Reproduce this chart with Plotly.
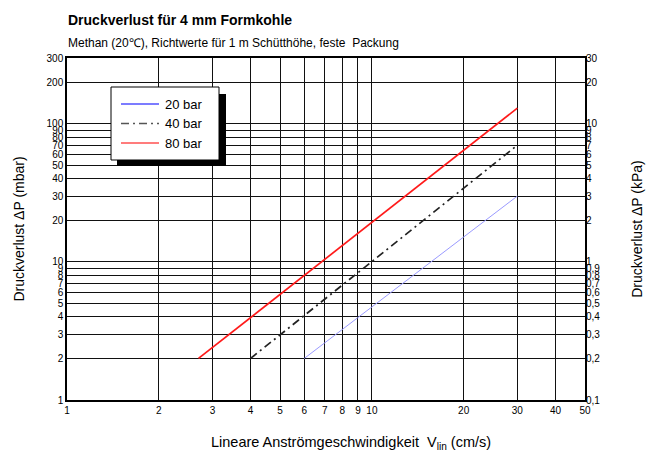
import numpy as np
import plotly.graph_objects as go

# Pressure-drop curves (velocity in cm/s, pressure drop in mbar)
series_names = ["20 bar", "40 bar", "80 bar"]
v_20 = [6.0, 30.0]
dp_20 = [2.0, 30.0]
v_40 = [4.0, 30.0]
dp_40 = [2.0, 70.0]
v_80 = [2.7, 30.0]
dp_80 = [2.0, 130.0]

x_ticks = [1, 2, 3, 4, 5, 6, 7, 8, 9, 10, 20, 30, 40, 50]
y_ticks = [1, 2, 3, 4, 5, 6, 7, 8, 9, 10, 20, 30, 40, 50, 60, 70, 80, 90, 100, 200, 300]
y2_ticks = [0.1, 0.2, 0.3, 0.4, 0.5, 0.6, 0.7, 0.8, 0.9, 1, 2, 3, 4, 5, 6, 7, 8, 9, 10, 20, 30]
y2_labels = ["0,1", "0,2", "0,3", "0,4", "0,5", "0,6", "0,7", "0,8", "0,9", "1",
             "2", "3", "4", "5", "6", "7", "8", "9", "10", "20", "30"]

styles = [
    dict(color="#9a9aff", width=1, dash="solid"),
    dict(color="#222222", width=1.7, dash="8px,4px,2px,4px"),
    dict(color="#ff1a1a", width=1.7, dash="solid"),
]
legend_colors = ["#5050ff", "#555555", "#ff5050"]

W, H = 650, 455
L, R, T, B = 67, 65, 58, 55
PW, PH = W - L - R, H - T - B

def px(x):
    return (x - L) / PW

def py(y):
    return (H - B - y) / PH

FONT = "Liberation Sans, Arial, sans-serif"

fig = go.Figure()
for name, xs, ys, st in zip(series_names, [v_20, v_40, v_80], [dp_20, dp_40, dp_80], styles):
    fig.add_trace(go.Scatter(x=xs, y=ys, mode="lines", name=name, line=st,
                             showlegend=False, hoverinfo="skip"))

# invisible trace carrying the kPa axis
fig.add_trace(go.Scatter(x=[1], y=[0.1], yaxis="y2", mode="markers",
                         marker=dict(opacity=0), showlegend=False, hoverinfo="skip"))

grid = dict(showgrid=True, gridcolor="#111111", gridwidth=1.1, ticks="",
            showline=True, linecolor="black", linewidth=1.5, mirror=True,
            zeroline=False, automargin=False)

fig.update_layout(
    width=W, height=H,
    margin=dict(l=L, r=R, t=T, b=B, pad=0),
    paper_bgcolor="white", plot_bgcolor="white",
    font=dict(family=FONT, color="black"),
    xaxis=dict(type="log", range=[0, np.log10(50)], tickvals=x_ticks,
               ticktext=[str(v) for v in x_ticks],
               tickfont=dict(size=10), **grid),
    yaxis=dict(type="log", range=[0, np.log10(300)], tickvals=y_ticks,
               ticktext=[str(v) for v in y_ticks],
               tickfont=dict(size=10), **grid,
               title=dict(text="Druckverlust ΔP (mbar)", font=dict(size=14), standoff=19)),
    yaxis2=dict(type="log", range=[-1, np.log10(30)], overlaying="y", side="right",
                tickvals=y2_ticks, ticktext=y2_labels, tickfont=dict(size=10),
                showgrid=False, ticks="", zeroline=False, showline=False, automargin=False,
                title=dict(text="Druckverlust ΔP (kPa)", font=dict(size=14), standoff=32)),
    showlegend=False,
)

# titles
fig.add_annotation(text="<b>Druckverlust für 4 mm Formkohle</b>", xref="paper", yref="paper",
                   x=px(66), y=py(20), xanchor="left", yanchor="middle", showarrow=False,
                   font=dict(size=14, family=FONT))
fig.add_annotation(text="Methan (20℃), Richtwerte für 1 m Schütthöhe, feste  Packung",
                   xref="paper", yref="paper", x=px(66), y=py(43), xanchor="left",
                   yanchor="middle", showarrow=False, font=dict(size=12, family=FONT))
fig.add_annotation(text="Lineare Anströmgeschwindigkeit  V<sub>lin</sub> (cm/s)",
                   xref="paper", yref="paper", x=px(351), y=py(443), xanchor="center",
                   yanchor="middle", showarrow=False, font=dict(size=14.5, family=FONT))

# legend box with drop shadow
fig.add_shape(type="rect", xref="paper", yref="paper", x0=px(117), x1=px(226),
              y0=py(94), y1=py(166), fillcolor="black", line=dict(width=0), layer="above")
fig.add_shape(type="rect", xref="paper", yref="paper", x0=px(111), x1=px(219),
              y0=py(87), y1=py(160), fillcolor="white", line=dict(color="black", width=1),
              layer="above")
for i, (name, st, lc) in enumerate(zip(series_names, styles, legend_colors)):
    yy = 104 + i * 19.5
    fig.add_shape(type="line", xref="paper", yref="paper", x0=px(121), x1=px(159),
                  y0=py(yy), y1=py(yy), layer="above",
                  line=dict(color=lc, width=1.6, dash=st["dash"]))
    fig.add_annotation(text=name, xref="paper", yref="paper", x=px(163), y=py(yy),
                       xanchor="left", yanchor="middle", showarrow=False,
                       font=dict(size=13, family=FONT))

fig.write_html("out.html")
